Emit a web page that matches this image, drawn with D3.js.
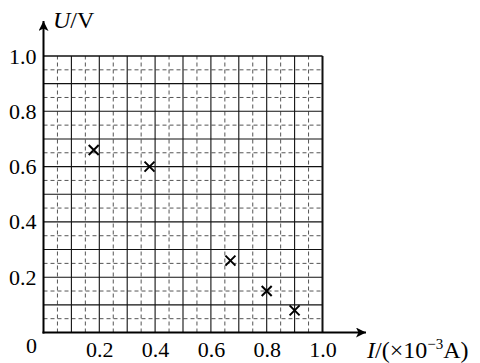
<!DOCTYPE html>
<html>
<head>
<meta charset="utf-8">
<script src="https://cdn.jsdelivr.net/npm/d3@7"></script>
<style>
  html, body { margin: 0; padding: 0; background: #fff; }
  svg { display: block; }
  svg text { font-family: "Liberation Serif", "Times New Roman", serif; fill: #000; }
</style>
</head>
<body>
<svg id="chart" width="480" height="363"></svg>
<script>
// Data: current I (x10^-3 A) and voltage U (V)
const currentI = [0.18, 0.38, 0.67, 0.80, 0.90];
const voltageU = [0.66, 0.60, 0.26, 0.15, 0.08];

// Tick labels
const xTicks = [0.2, 0.4, 0.6, 0.8, 1.0];
const yTicks = [0.2, 0.4, 0.6, 0.8, 1.0];

// Grid lines: solid every 0.1, dashed on the halves
const solidGrid = d3.range(1, 11).map(d => d / 10);
const dashedGrid = d3.range(0, 10).map(d => d / 10 + 0.05);

const svg = d3.select("#chart");

const x = d3.scaleLinear().domain([0, 1]).range([43.5, 322.5]);
const y = d3.scaleLinear().domain([0, 1]).range([332.5, 56]);

// dashed grid first, so the solid lines sit on top
const grid = svg.append("g");

grid.selectAll(".vd")
    .data(dashedGrid)
    .join("line")
    .attr("x1", d => x(d)).attr("x2", d => x(d))
    .attr("y1", y(0)).attr("y2", y(1))
    .attr("stroke", "#555")
    .attr("stroke-width", 1)
    .attr("stroke-dasharray", "4,3");

grid.selectAll(".hd")
    .data(dashedGrid)
    .join("line")
    .attr("x1", x(0)).attr("x2", x(1))
    .attr("y1", d => y(d)).attr("y2", d => y(d))
    .attr("stroke", "#555")
    .attr("stroke-width", 1)
    .attr("stroke-dasharray", "4,3");

grid.selectAll(".vs")
    .data(solidGrid)
    .join("line")
    .attr("x1", d => x(d)).attr("x2", d => x(d))
    .attr("y1", y(0)).attr("y2", y(1))
    .attr("stroke", "#111")
    .attr("stroke-width", d => d === 1 ? 2 : 1.1);

grid.selectAll(".hs")
    .data(solidGrid)
    .join("line")
    .attr("x1", x(0)).attr("x2", x(1))
    .attr("y1", d => y(d)).attr("y2", d => y(d))
    .attr("stroke", "#111")
    .attr("stroke-width", d => d === 1 ? 1.5 : 1.1);

// axes with arrows
svg.append("defs").append("marker")
    .attr("id", "arrow")
    .attr("viewBox", "0 0 10 10")
    .attr("refX", 10).attr("refY", 5)
    .attr("markerWidth", 10).attr("markerHeight", 10)
    .attr("markerUnits", "userSpaceOnUse")
    .attr("orient", "auto")
    .append("path")
    .attr("d", "M0,0 L10,5 L0,10 L2.5,5 Z")
    .attr("fill", "#000");

svg.append("line")
    .attr("x1", x(0) - 1).attr("x2", 366)
    .attr("y1", y(0)).attr("y2", y(0))
    .attr("stroke", "#000").attr("stroke-width", 2)
    .attr("marker-end", "url(#arrow)");

svg.append("line")
    .attr("x1", x(0)).attr("x2", x(0))
    .attr("y1", y(0) + 1).attr("y2", 21)
    .attr("stroke", "#000").attr("stroke-width", 2)
    .attr("marker-end", "url(#arrow)");

// tick labels
const xAxis = svg.append("g")
    .attr("transform", `translate(0,${y(0)})`)
    .call(d3.axisBottom(x).tickValues(xTicks).tickSize(0).tickPadding(9).tickFormat(d3.format(".1f")));
xAxis.select(".domain").remove();
xAxis.attr("font-family", null).attr("font-size", 22);

const yAxis = svg.append("g")
    .attr("transform", `translate(${x(0)},0)`)
    .call(d3.axisLeft(y).tickValues(yTicks).tickSize(0).tickPadding(7).tickFormat(d3.format(".1f")));
yAxis.select(".domain").remove();
yAxis.attr("font-family", null).attr("font-size", 22);

// origin label
svg.append("text")
    .attr("x", x(0) - 12).attr("y", y(0) + 20)
    .attr("text-anchor", "middle")
    .attr("font-size", 22)
    .text("0");

// axis titles
const yTitle = svg.append("text")
    .attr("x", 53).attr("y", 28)
    .attr("font-size", 24);
yTitle.append("tspan").attr("font-style", "italic").text("U");
yTitle.append("tspan").text("/V");

const xTitle = svg.append("text")
    .attr("x", 367).attr("y", 358)
    .attr("font-size", 24);
xTitle.append("tspan").attr("font-style", "italic").text("I");
xTitle.append("tspan").text("/(×10");
xTitle.append("tspan").attr("font-size", 15).attr("dy", -9).text("−3");
xTitle.append("tspan").attr("dy", 9).text("A)");

// data points as crosses
const pts = currentI.map((d, i) => ({ i: d, u: voltageU[i] }));
const s = 5;
svg.append("g")
    .selectAll("path")
    .data(pts)
    .join("path")
    .attr("d", d => {
        const cx = x(d.i), cy = y(d.u);
        return `M${cx - s},${cy - s}L${cx + s},${cy + s}M${cx - s},${cy + s}L${cx + s},${cy - s}`;
    })
    .attr("stroke", "#000")
    .attr("stroke-width", 2)
    .attr("fill", "none");
</script>
</body>
</html>
